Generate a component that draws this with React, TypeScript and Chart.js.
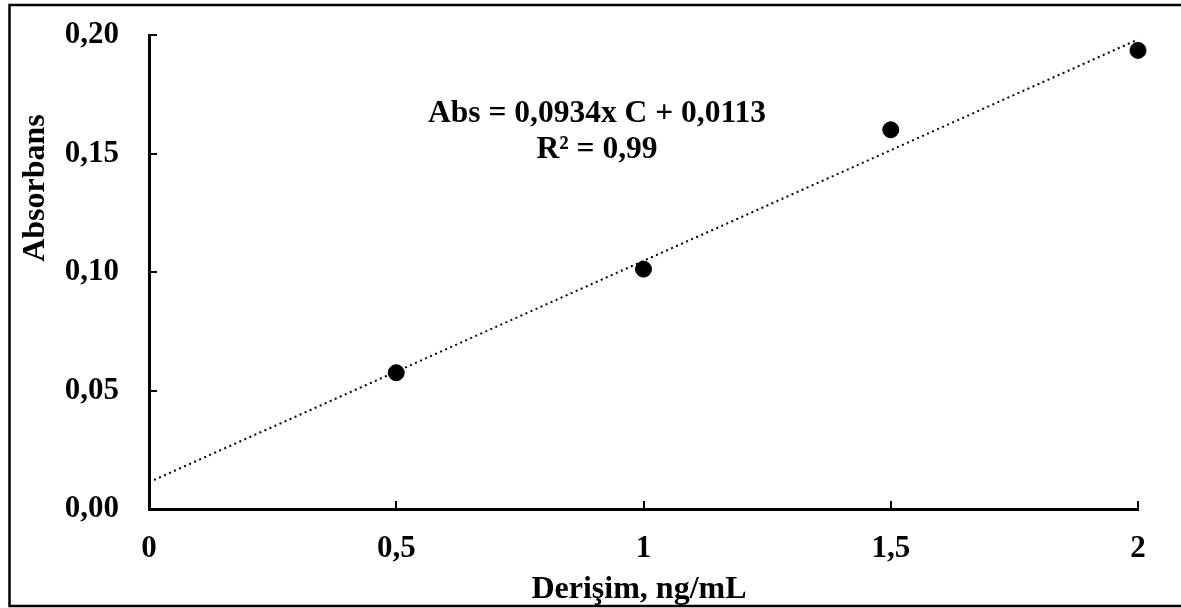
import React, { useEffect, useRef } from "react";
import { Chart, registerables } from "chart.js";

Chart.register(...registerables);

// Data
const concentrations = [0.5, 1, 1.5, 2];
const absorbances = [0.0575, 0.1012, 0.16, 0.1935];
const trendX = [0, 2];
const trendY = [0.0113, 0.1981];
const xTickValues = [0, 0.5, 1, 1.5, 2];
const yTickValues = [0, 0.05, 0.1, 0.15, 0.2];
const xTitle = "Derişim, ng/mL";
const yTitle = "Absorbans";
const equationLines = ["Abs = 0,0934x C + 0,0113", "R² = 0,99"];

const FONT = '"Liberation Serif", "Times New Roman", serif';

const decor = {
  id: "decor",
  afterDraw(chart: any) {
    const ctx = chart.ctx;
    const xs = chart.scales.x;
    const ys = chart.scales.y;
    ctx.save();
    // inner tick marks
    ctx.strokeStyle = "#000";
    ctx.lineWidth = 2;
    const len = 8;
    for (const v of yTickValues) {
      const py = Math.round(ys.getPixelForValue(v));
      ctx.beginPath();
      ctx.moveTo(xs.left, py);
      ctx.lineTo(xs.left + len, py);
      ctx.stroke();
    }
    for (const v of xTickValues) {
      const px = Math.round(xs.getPixelForValue(v));
      ctx.beginPath();
      ctx.moveTo(px, ys.bottom);
      ctx.lineTo(px, ys.bottom - len);
      ctx.stroke();
    }
    // frame
    ctx.lineWidth = 2.5;
    ctx.strokeRect(9.5, 5, 1200, 601);
    // titles
    ctx.fillStyle = "#000";
    ctx.font = `bold 32px ${FONT}`;
    ctx.textAlign = "center";
    ctx.textBaseline = "alphabetic";
    ctx.fillText(xTitle, 639, 598);
    ctx.save();
    ctx.translate(44, 188);
    ctx.rotate(-Math.PI / 2);
    ctx.fillText(yTitle, 0, 0);
    ctx.restore();
    // equation
    ctx.font = `bold 31.5px ${FONT}`;
    ctx.fillText(equationLines[0], 597, 122);
    ctx.fillText(equationLines[1], 597, 158);
    ctx.restore();
  },
};

export default function App() {
  const ref = useRef<HTMLCanvasElement>(null);
  useEffect(() => {
    if (!ref.current) return;
    const chart = new Chart(ref.current, {
      type: "scatter",
      data: {
        datasets: [
          {
            label: "Trend",
            data: trendX.map((x, i) => ({ x, y: trendY[i] })),
            showLine: true,
            borderColor: "#000",
            borderWidth: 2,
            borderDash: [2, 3.5],
            pointRadius: 0,
            fill: false,
            clip: false,
          },
          {
            label: "Absorbans",
            data: concentrations.map((x, i) => ({ x, y: absorbances[i] })),
            backgroundColor: "#000",
            borderColor: "#000",
            pointRadius: 8,
            pointHoverRadius: 8,
            clip: false,
          },
        ],
      },
      options: {
        responsive: false,
        animation: false,
        layout: { padding: { top: 35, right: 43, left: 0, bottom: 0 } },
        plugins: { legend: { display: false }, tooltip: { enabled: false } },
        scales: {
          x: {
            type: "linear",
            min: 0,
            max: 2,
            afterFit: (s: any) => {
              s.height = 99;
              s.paddingLeft = 0;
              s.paddingRight = 0;
            },
            afterBuildTicks: (s: any) => {
              s.ticks = xTickValues.map((v) => ({ value: v }));
            },
            grid: { display: false, drawTicks: false },
            border: { display: true, color: "#000", width: 3 },
            ticks: {
              color: "#000",
              padding: 21,
              font: { family: FONT, weight: "bold", size: 31 },
              callback: (v: any) => String(v).replace(".", ","),
            },
          },
          y: {
            type: "linear",
            min: 0,
            max: 0.2,
            afterFit: (s: any) => {
              s.width = 149;
              s.paddingTop = 0;
              s.paddingBottom = 0;
            },
            afterBuildTicks: (s: any) => {
              s.ticks = yTickValues.map((v) => ({ value: v }));
            },
            grid: { display: false, drawTicks: false },
            border: { display: true, color: "#000", width: 3 },
            ticks: {
              color: "#000",
              padding: 30,
              font: { family: FONT, weight: "bold", size: 31 },
              callback: (v: any) => Number(v).toFixed(2).replace(".", ","),
            },
          },
        },
      },
      plugins: [decor],
    });
    return () => chart.destroy();
  }, []);
  return (
    <div style={{ position: "fixed", left: 0, top: 0, width: 1181, height: 608, background: "#fff" }}>
      <canvas ref={ref} width={1181} height={608} style={{ display: "block" }} />
    </div>
  );
}
